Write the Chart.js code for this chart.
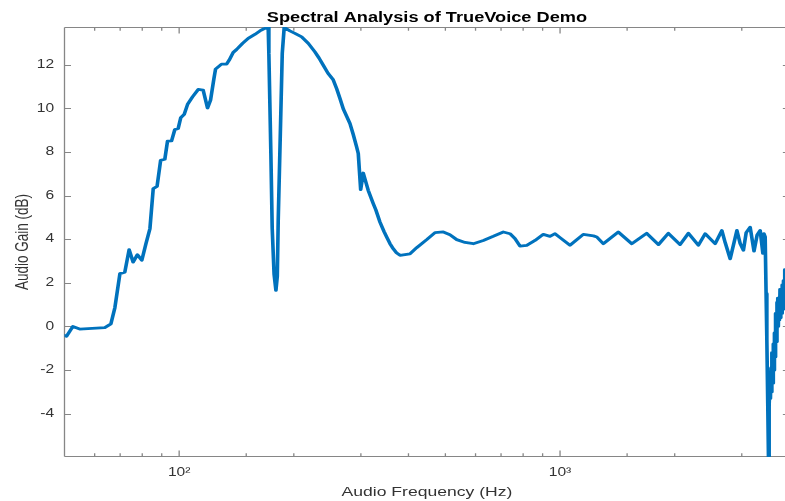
<!DOCTYPE html>
<html>
<head>
<meta charset="utf-8">
<title>Spectral Analysis of TrueVoice Demo</title>
<script src="https://cdn.jsdelivr.net/npm/chart.js@4.4.1/dist/chart.umd.min.js"></script>
<style>
  html, body { margin: 0; padding: 0; background: #fff; overflow: hidden; }
</style>
</head>
<body>
<canvas id="espectro" width="616" height="501"></canvas>
<script>
// ======================================================
// Data: gain (dB) measured at each frequency (Hz)
// ======================================================
const freqHz = [
  50, 50.6, 52.6, 54.8, 63.8, 66.2, 67.8, 69.9, 72.0, 73.9,
  75.7, 77.7, 79.8, 81.8, 83.8, 85.5, 87.5, 89.4, 91.7, 93.2,
  95.5, 97.4, 99.4, 101.0, 103.1, 105.2, 108.4, 112.2, 115.6, 118.7,
  120.9, 123.4, 124.6, 129.2, 133.2, 135.3, 138.6, 141.5, 146.7, 151.8,
  158.0, 162.9, 166.9, 171.3, 172.0, 174.1, 175.5, 177.5, 179.5, 181.0,
  182.0, 184.7, 186.5, 188.7, 195.3, 201.4, 209.7, 218.3, 227.2, 232.9,
  238.9, 245.9, 253.8, 259.1, 264.3, 270.0, 280.8, 286.4, 292.4, 295.3,
  299.6, 304.3, 313.6, 323.3, 328.2, 336.7, 345.0, 350.6, 357.6, 364.9,
  371.9, 380.0, 403.6, 420.3, 446.6, 469.6, 493.8, 514.0, 535.5, 563.0,
  592.0, 628.9, 668.1, 709.7, 739.0, 761.7, 785.1, 817.6, 859.7, 904.0,
  941.2, 970.3, 1000, 1062, 1151, 1224, 1249, 1299, 1422, 1543,
  1689, 1813, 1925, 2066, 2173, 2308, 2404, 2554, 2660, 2713,
  2797, 2913, 2971, 3030, 3081, 3156, 3230, 3293, 3353, 3408,
  3430, 3456, 3475, 3491, 3510, 3525, 3540, 3555, 3568, 3580,
  3592, 3605, 3618, 3630, 3642, 3655, 3668, 3680, 3692, 3705,
  3718, 3730, 3742, 3755, 3768, 3780, 3792, 3805, 3818, 3830,
  3845, 3860, 3875, 3890, 3910, 3930, 3950, 3975, 4000
];
const gainDb = [
  -0.41, -0.45, 0.0, -0.12, -0.05, 0.12, 0.86, 2.42, 2.49, 3.52,
  2.95, 3.29, 3.03, 3.79, 4.48, 6.32, 6.42, 7.61, 7.66, 8.49,
  8.50, 9.02, 9.07, 9.57, 9.72, 10.17, 10.52, 10.86, 10.83, 10.01,
  10.37, 11.36, 11.79, 12.02, 12.02, 12.20, 12.55, 12.69, 12.97, 13.20,
  13.38, 13.54, 13.64, 13.70, 12.50, 7.92, 4.50, 2.40, 1.65, 2.30,
  4.86, 9.45, 12.51, 13.70, 13.54, 13.43, 13.27, 12.97, 12.58, 12.30,
  11.97, 11.60, 11.30, 10.90, 10.45, 9.95, 9.30, 8.80, 8.22, 7.92,
  6.27, 7.03, 6.24, 5.63, 5.35, 4.78, 4.35, 4.10, 3.80, 3.56,
  3.38, 3.26, 3.33, 3.61, 3.98, 4.30, 4.33, 4.20, 3.98, 3.85,
  3.79, 3.94, 4.13, 4.33, 4.25, 4.02, 3.68, 3.72, 3.94, 4.22,
  4.13, 4.25, 4.07, 3.72, 4.22, 4.15, 4.10, 3.79, 4.33, 3.79,
  4.27, 3.75, 4.27, 3.75, 4.27, 3.72, 4.25, 3.79, 4.40, 3.85,
  3.10, 4.40, 3.80, 3.49, 4.30, 4.55, 3.45, 4.20, 4.40, 3.35,
  4.25, 4.10, 1.50, -0.60, -3.50, -5.97, -3.60, -2.70, -3.30, -1.90,
  -3.00, -1.20, -2.60, -0.80, -2.00, -0.30, -1.40, 0.60, -0.70, 1.10,
  -0.20, 1.30, 0.00, 1.20, 0.30, 1.70, 0.40, 1.60, 0.60, 1.90,
  0.80, 2.10, 1.00, 2.60, 1.40, 2.40, 1.60, 2.50, 2.00
];

// axis limits and tick labels
const xRange = [50, 4000];
const yRange = [-5.98, 13.72];
const yStep = 2;
const xDecades = [100, 1000];
const xDecadeLabels = ["10²", "10³"];

const tituloGrafico = "Spectral Analysis of TrueVoice Demo";
const tituloX = "Audio Frequency (Hz)";
const tituloY = "Audio Gain (dB)";

// ======================================================
// Look
// ======================================================
const ESTIRAMIENTO = 1.3;   // the figure is drawn stretched sideways
const ANCHO_PAGINA = 785;
const FUENTE = "'Liberation Sans', Arial, Helvetica, sans-serif";
const GRIS_EJE = "#868686";
const GRIS_TEXTO = "#333333";
const AZUL = "#0072BD";

// box around the plot with inward ticks on all four sides
const marcoEjes = {
  id: "marcoEjes",
  beforeDatasetsDraw(chart) {
    const { ctx, chartArea: a, scales: { x, y } } = chart;
    const top = Math.round(a.top) + 0.5;
    const bottom = Math.round(a.bottom) - 0.5;
    ctx.save();
    ctx.strokeStyle = GRIS_EJE;
    ctx.lineWidth = 1;
    ctx.beginPath();
    ctx.moveTo(a.left, top); ctx.lineTo(a.right, top);
    ctx.moveTo(a.left, bottom); ctx.lineTo(a.right, bottom);
    ctx.moveTo(a.left, top); ctx.lineTo(a.left, bottom);
    ctx.moveTo(a.right, top); ctx.lineTo(a.right, bottom);

    x.ticks.forEach(t => {
      const px = x.getPixelForValue(t.value);
      const largo = xDecades.includes(t.value) ? 6 : 3.3;
      ctx.moveTo(px, bottom); ctx.lineTo(px, bottom - largo);
      ctx.moveTo(px, top); ctx.lineTo(px, top + largo);
    });
    y.ticks.forEach(t => {
      const py = Math.round(y.getPixelForValue(t.value)) + 0.5;
      ctx.moveTo(a.left, py); ctx.lineTo(a.left + 5, py);
      ctx.moveTo(a.right, py); ctx.lineTo(a.right - 5, py);
    });
    ctx.stroke();
    ctx.restore();
  }
};

// title centred over the plot area, not the whole canvas
const tituloCentrado = {
  id: "tituloCentrado",
  afterDraw(chart) {
    const { ctx, chartArea: a } = chart;
    ctx.save();
    ctx.font = `bold 14px ${FUENTE}`;
    ctx.fillStyle = "#000";
    ctx.textAlign = "center";
    ctx.textBaseline = "alphabetic";
    ctx.fillText(tituloGrafico, (a.left + a.right) / 2, 22.3);
    ctx.restore();
  }
};

const puntos = freqHz.map((f, i) => ({ x: f, y: gainDb[i] }));

const canvas = document.getElementById("espectro");

const chart = new Chart(canvas, {
  type: "line",
  data: {
    datasets: [{
      data: puntos,
      borderColor: AZUL,
      borderWidth: 2.8,
      borderJoinStyle: "round",
      borderCapStyle: "round",
      pointRadius: 0,
      tension: 0,
      fill: false
    }]
  },
  options: {
    responsive: false,
    animation: false,
    events: [],
    layout: { padding: { top: 27, right: 0, left: 0, bottom: 0 } },
    plugins: {
      legend: { display: false },
      tooltip: { enabled: false },
      title: { display: false }
    },
    scales: {
      x: {
        type: "logarithmic",
        min: xRange[0],
        max: xRange[1],
        grid: { display: false, drawTicks: false },
        border: { display: false },
        ticks: {
          autoSkip: false,
          maxRotation: 0,
          padding: 8.8,
          color: GRIS_TEXTO,
          font: { family: FUENTE, size: 12 },
          callback: v => {
            const k = xDecades.indexOf(v);
            return k >= 0 ? xDecadeLabels[k] : "";
          }
        },
        title: {
          display: true,
          text: tituloX,
          color: GRIS_TEXTO,
          font: { family: FUENTE, size: 13.5 },
          padding: { top: 0, bottom: 0.7 }
        },
        afterFit: s => { s.height = 44; }
      },
      y: {
        min: yRange[0],
        max: yRange[1],
        grid: { display: false, drawTicks: false },
        border: { display: false },
        ticks: {
          stepSize: yStep,
          includeBounds: false,
          padding: 8,
          color: GRIS_TEXTO,
          font: { family: FUENTE, size: 12 },
          callback: v => String(v)
        },
        title: {
          display: true,
          text: tituloY,
          color: GRIS_TEXTO,
          font: { family: FUENTE, size: 13.5 },
          padding: { top: 9.6, bottom: 0 }
        },
        afterFit: s => { s.width = 64.5 / ESTIRAMIENTO; }
      }
    }
  },
  plugins: [marcoEjes, tituloCentrado]
});

// full-width bitmap, drawn with a horizontal stretch
canvas.width = ANCHO_PAGINA;
canvas.style.width = ANCHO_PAGINA + "px";
chart.ctx.setTransform(ESTIRAMIENTO, 0, 0, 1, 0, 0);
chart.draw();
</script>
</body>
</html>
